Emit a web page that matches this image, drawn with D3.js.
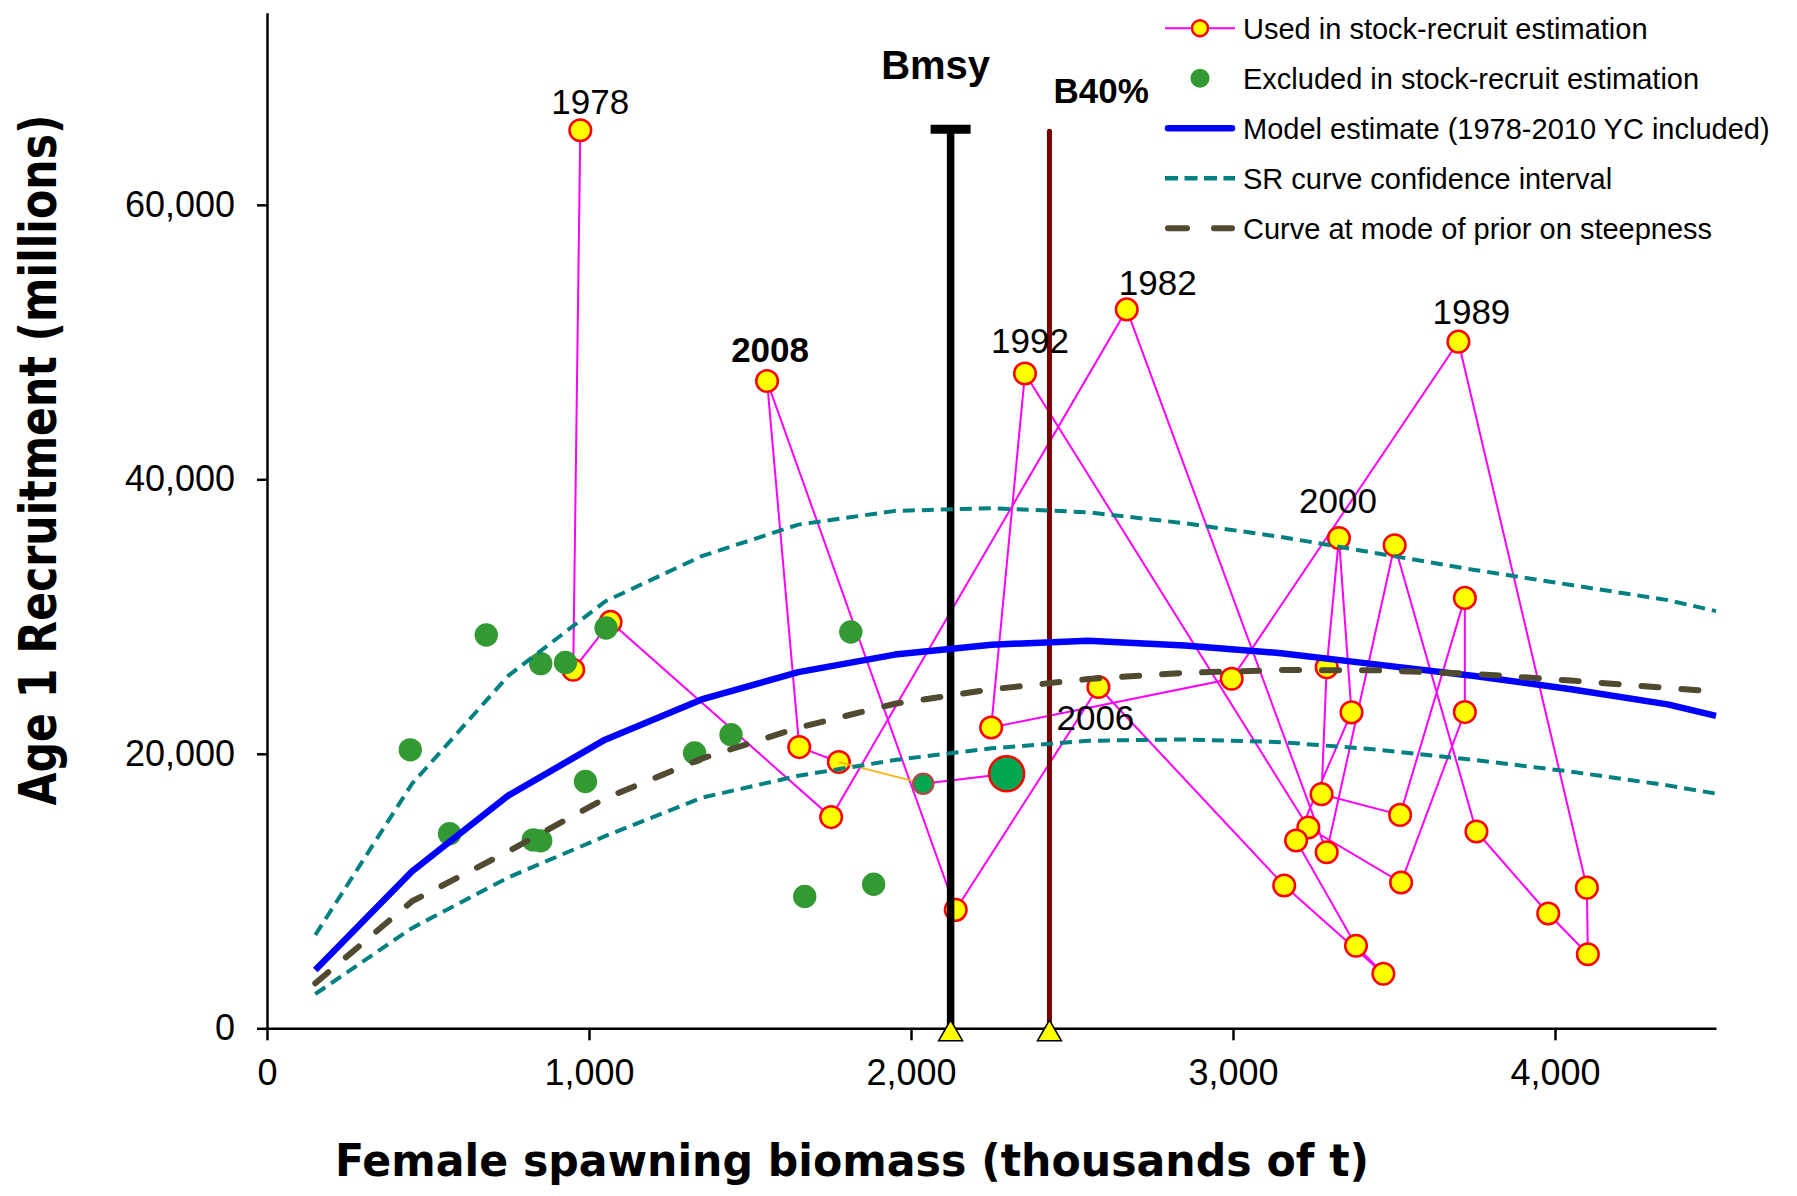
<!DOCTYPE html>
<html>
<head>
<meta charset="utf-8">
<script src="https://cdn.jsdelivr.net/npm/d3@7"></script>
<style>
  body { margin: 0; background: #fff; }
  svg { display: block; }
</style>
</head>
<body>
<div id="chart"></div>
<script>
// stock-recruit pairs used in the fit (year class, female SSB kt, age 1 recruits millions)
const usedYears = [1978, 1979, 1980, 1981, 1982, 1983, 1984, 1985, 1986, 1987, 1988,
                   1989, 1990, 1991, 1992, 1993, 1994, 1995, 1996, 1997, 1998, 1999,
                   2000, 2001, 2002, 2003, 2004, 2005, 2006, 2007, 2008, 2009, 2010];
const usedSSB = [973, 951, 1067, 1752, 2670, 3291, 3502, 3756, 3979, 4102, 4099,
                 3700, 2996, 2249, 2354, 3234, 3522, 3720, 3720, 3519, 3275, 3291,
                 3329, 3368, 3196, 3382, 3467, 3159, 2582, 2139, 1553, 1653, 1776];
const usedRec = [65440, 26130, 29610, 15390, 52380, 12830, 35190, 14340, 8360, 5400, 10250,
                 50030, 25470, 21920, 47710, 14630, 10620, 23040, 31360, 15550, 17060, 26300,
                 35730, 23020, 13680, 6020, 3980, 10400, 24870, 8630, 47160, 20490, 19400];

// excluded pairs
const exclSSB = [445, 567, 681, 850, 927, 1053, 989, 827, 850, 1328, 1441, 1813, 1670, 1884];
const exclRec = [20290, 14180, 28660, 26570, 26660, 29170, 17980, 13730, 13660, 20060, 21390, 28880, 9610, 10500];

// most recent year classes
const recentYears = [2011, 2012];
const recentSSB = [2038, 2297];
const recentRec = [17820, 18540];

// stock-recruit curves
const curveSSB = [150, 450, 750, 1050, 1350, 1650, 1950, 2250, 2550, 2850, 3150, 3450, 3750, 4050, 4350, 4500];
const modelRec = [4250, 11430, 16970, 21030, 23960, 25950, 27230, 27950, 28240, 27900, 27330, 26500, 25670, 24710, 23600, 22770];
const priorRec = [3280, 9250, 12900, 16750, 19650, 21900, 23650, 24700, 25450, 25900, 26100, 26090, 25820, 25340, 24790, 24550];
const ciUpper = [6800, 17800, 25700, 31100, 34400, 36700, 37700, 37900, 37600, 36800, 35800, 34600, 33400, 32300, 31200, 30400];
const ciLower = [2500, 7300, 11000, 14000, 16800, 18400, 19550, 20400, 20950, 21050, 20850, 20300, 19550, 18700, 17700, 17100];

// reference points
const bmsy = 2123, b40 = 2430, refTop = 65500;

const labelYears = [1978, 1982, 1989, 1992, 2000, 2006, 2008];
const xTicks = [0, 1000, 2000, 3000, 4000];
const yTicks = [0, 20000, 40000, 60000];
const legendLabels = ['Used in stock-recruit estimation',
                      'Excluded in stock-recruit estimation',
                      'Model estimate (1978-2010 YC included)',
                      'SR curve confidence interval',
                      'Curve at mode of prior on steepness'];

const W = 1797, H = 1196;
const font = "'Liberation Sans', Arial, sans-serif";
const magenta = '#FF00FF', green = '#339933', teal = '#008080', olive = '#4F4A30';

const svg = d3.select('#chart').append('svg')
    .attr('width', W)
    .attr('height', H);
svg.append('rect').attr('width', W).attr('height', H).attr('fill', '#fff');

const x = d3.scaleLinear().domain([0, 4500]).range([267, 1716]);
const y = d3.scaleLinear().domain([0, 74000]).range([1028.3, 12.7]);

// axes
const yAxis = svg.append('g')
    .attr('transform', 'translate(' + x(0) + ',0)')
    .call(d3.axisLeft(y).tickValues(yTicks).tickSize(10).tickSizeOuter(0)
        .tickPadding(22).tickFormat(d3.format(',')));
const xAxis = svg.append('g')
    .attr('transform', 'translate(0,' + y(0) + ')')
    .call(d3.axisBottom(x).tickValues(xTicks).tickSize(12).tickSizeOuter(0)
        .tickPadding(19).tickFormat(d3.format(',')));
[yAxis, xAxis].forEach(a => {
    a.select('.domain').attr('stroke', '#000').attr('stroke-width', 2.5);
    a.selectAll('.tick line').attr('stroke', '#000').attr('stroke-width', 2.5);
    a.selectAll('.tick text').attr('fill', '#000')
        .style('font-family', font).style('font-size', '36px');
});

// used series: connecting line then markers
const usedPts = usedYears.map((yr, i) => ({ year: yr, ssb: usedSSB[i], rec: usedRec[i] }));
const ptLine = d3.line().x(d => x(d.ssb)).y(d => y(d.rec));

svg.append('path')
    .datum(usedPts)
    .attr('d', ptLine)
    .attr('fill', 'none')
    .attr('stroke', magenta)
    .attr('stroke-width', 2);

svg.append('g').selectAll('circle')
    .data(usedPts)
    .enter()
    .append('circle')
    .attr('cx', d => x(d.ssb))
    .attr('cy', d => y(d.rec))
    .attr('r', 10.8)
    .attr('fill', '#FFFF00')
    .attr('stroke', '#FF0000')
    .attr('stroke-width', 2.5);

// excluded points
svg.append('g').selectAll('circle')
    .data(exclSSB.map((s, i) => ({ ssb: s, rec: exclRec[i] })))
    .enter()
    .append('circle')
    .attr('cx', d => x(d.ssb))
    .attr('cy', d => y(d.rec))
    .attr('r', 11.7)
    .attr('fill', green);

// recent year classes
const recentPts = recentYears.map((yr, i) => ({ year: yr, ssb: recentSSB[i], rec: recentRec[i] }));
const lastUsed = usedPts[usedPts.length - 1];
svg.append('path')
    .datum([lastUsed, recentPts[0]])
    .attr('d', ptLine)
    .attr('fill', 'none')
    .attr('stroke', '#FFB319')
    .attr('stroke-width', 1.8);
svg.append('path')
    .datum(recentPts)
    .attr('d', ptLine)
    .attr('fill', 'none')
    .attr('stroke', magenta)
    .attr('stroke-width', 2);
svg.append('circle')
    .attr('cx', x(recentPts[0].ssb)).attr('cy', y(recentPts[0].rec))
    .attr('r', 10).attr('fill', '#00A650')
    .attr('stroke', '#A0524A').attr('stroke-width', 2.5);
svg.append('circle')
    .attr('cx', x(recentPts[1].ssb)).attr('cy', y(recentPts[1].rec))
    .attr('r', 17.5).attr('fill', '#00A650')
    .attr('stroke', '#FF0000').attr('stroke-width', 2.5);

// Bmsy and B40% reference lines
svg.append('line')
    .attr('x1', x(bmsy)).attr('x2', x(bmsy))
    .attr('y1', y(refTop)).attr('y2', y(0))
    .attr('stroke', '#000').attr('stroke-width', 7.5);
svg.append('line')
    .attr('x1', x(bmsy) - 20).attr('x2', x(bmsy) + 20)
    .attr('y1', y(refTop)).attr('y2', y(refTop))
    .attr('stroke', '#000').attr('stroke-width', 9);
svg.append('line')
    .attr('x1', x(b40)).attr('x2', x(b40))
    .attr('y1', y(refTop) + 2).attr('y2', y(0))
    .attr('stroke', '#7A0000').attr('stroke-width', 5)
    .attr('stroke-linecap', 'round');

const tri = d3.symbol().type(d3.symbolTriangle).size(250);
[bmsy, b40].forEach(v => {
    svg.append('path')
        .attr('d', tri)
        .attr('transform', 'translate(' + x(v) + ',' + (y(0) + 5.6) + ')')
        .attr('fill', '#FFFF00')
        .attr('stroke', '#000')
        .attr('stroke-width', 1.5);
});

svg.append('text')
    .attr('x', x(bmsy) - 15).attr('y', 79)
    .attr('text-anchor', 'middle')
    .style('font-family', font).style('font-weight', 'bold').style('font-size', '40px')
    .text('Bmsy');
svg.append('text')
    .attr('x', x(b40) + 4).attr('y', 103)
    .attr('text-anchor', 'start')
    .style('font-family', font).style('font-weight', 'bold').style('font-size', '35px')
    .text('B40%');

// curves
const curveLine = d3.line().x((d, i) => x(curveSSB[i])).y(d => y(d));
svg.append('path').attr('d', curveLine(modelRec))
    .attr('fill', 'none').attr('stroke', '#0000FF').attr('stroke-width', 6.5)
    .attr('stroke-linejoin', 'round');
[ciUpper, ciLower].forEach(arr => {
    svg.append('path').attr('d', curveLine(arr))
        .attr('fill', 'none').attr('stroke', teal).attr('stroke-width', 4)
        .attr('stroke-dasharray', '12,7');
});
svg.append('path').attr('d', curveLine(priorRec))
    .attr('fill', 'none').attr('stroke', olive).attr('stroke-width', 6)
    .attr('stroke-linecap', 'round')
    .attr('stroke-dasharray', '17,23');

// year labels
const labelPlace = {
    1978: [10, -16], 1982: [31, -14], 1989: [13, -18], 1992: [5, -21],
    2000: [-1, -25], 2006: [-3, 43], 2008: [3, -19]
};
svg.append('g').selectAll('text')
    .data(usedPts.filter(d => labelYears.includes(d.year)))
    .enter()
    .append('text')
    .attr('x', d => x(d.ssb) + labelPlace[d.year][0])
    .attr('y', d => y(d.rec) + labelPlace[d.year][1])
    .attr('text-anchor', 'middle')
    .style('font-family', font)
    .style('font-size', '35px')
    .style('font-weight', d => d.year === 2008 ? 'bold' : 'normal')
    .text(d => d.year);

// axis titles
svg.append('text')
    .attr('transform', 'translate(852,1176) scale(0.97,1)')
    .attr('text-anchor', 'middle')
    .style('font-family', "'DejaVu Sans', Verdana, sans-serif")
    .style('font-weight', 'bold').style('font-size', '44px')
    .text('Female spawning biomass (thousands of t)');
svg.append('text')
    .attr('transform', 'translate(56,460) rotate(-90) scale(0.82,1)')
    .attr('text-anchor', 'middle')
    .style('font-family', "'DejaVu Sans', Verdana, sans-serif")
    .style('font-weight', 'bold').style('font-size', '52px')
    .text('Age 1 Recruitment (millions)');

// legend
const legend = svg.append('g').attr('transform', 'translate(1165,0)');
const rowY = [28.3, 78.3, 128.3, 178.3, 228.3];
legendLabels.forEach((lab, i) => {
    const row = legend.append('g').attr('transform', 'translate(0,' + rowY[i] + ')');
    if (i === 0) {
        row.append('line').attr('x1', 0).attr('x2', 70)
            .attr('stroke', magenta).attr('stroke-width', 2);
        row.append('circle').attr('cx', 35).attr('r', 8)
            .attr('fill', '#FFFF00').attr('stroke', '#FF0000').attr('stroke-width', 2.5);
    } else if (i === 1) {
        row.append('circle').attr('cx', 35).attr('r', 9.5).attr('fill', green);
    } else if (i === 2) {
        row.append('line').attr('x1', 3).attr('x2', 67)
            .attr('stroke', '#0000FF').attr('stroke-width', 6.5).attr('stroke-linecap', 'round');
    } else if (i === 3) {
        row.append('line').attr('x1', 0).attr('x2', 70)
            .attr('stroke', teal).attr('stroke-width', 4.5).attr('stroke-dasharray', '13,6.5');
    } else {
        row.append('line').attr('x1', 3).attr('x2', 67)
            .attr('stroke', olive).attr('stroke-width', 6).attr('stroke-linecap', 'round')
            .attr('stroke-dasharray', '19,27');
    }
    row.append('text')
        .attr('x', 78).attr('y', 10.5)
        .style('font-family', font).style('font-size', '29px')
        .text(lab);
});
</script>
</body>
</html>
